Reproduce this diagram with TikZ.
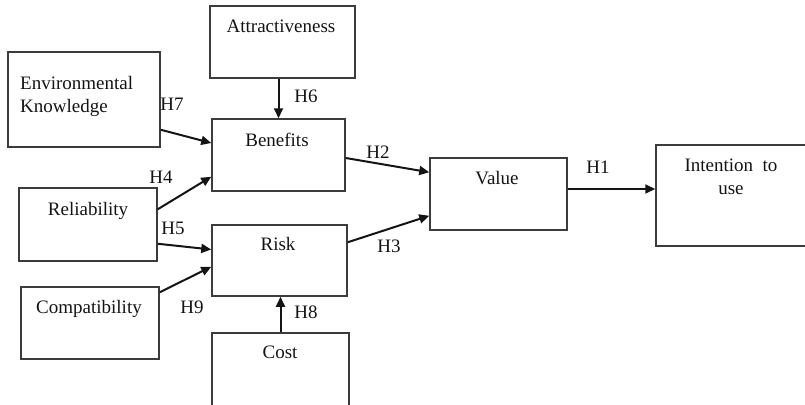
\documentclass[tikz,border=0pt]{standalone}
\usepackage{fontspec}
\setmainfont{Liberation Serif}
\usepackage{xcolor}
\usepackage{tikz}
\usetikzlibrary{calc,arrows.meta}
\definecolor{boxline}{RGB}{60, 60, 60}
\definecolor{ink}{RGB}{20, 20, 20}

\begin{document}
\begin{tikzpicture}[x=1pt, y=-1pt,
    box/.style={draw=boxline, line width=1.5pt, inner sep=0pt},
    txt/.style={text=ink, font=\fontsize{19}{23}\selectfont, anchor=base, inner sep=0pt},
    hyp/.style={txt},
    arr/.style={-{Triangle[length=10pt,width=9pt]}, line width=2pt, ink}]
  \useasboundingbox (0,0) rectangle (805,404);

  % Boxes
  \node[box, minimum width=145, minimum height=72] (attr) at (282.5,42) {};
  \node[box, minimum width=152, minimum height=95] (env)  at (84,99.5) {};
  \node[box, minimum width=133, minimum height=72] (ben)  at (278.5,155) {};
  \node[box, minimum width=138, minimum height=73] (rel)  at (88,224.5) {};
  \node[box, minimum width=135, minimum height=71] (risk) at (279.5,260.5) {};
  \node[box, minimum width=138, minimum height=72] (comp) at (90,323) {};
  \node[box, minimum width=137, minimum height=77] (cost) at (280.5,371.5) {};
  \node[box, minimum width=137, minimum height=72] (val)  at (498.5,194) {};
  \node[box, minimum width=159, minimum height=101] (int) at (735.5,195.5) {};

  % Box texts (base of a two-line node is its last line)
  \node[txt] (attrT) at (281,33) {Attractiveness};
  \node[txt, anchor=base west, align=left] (envT) at (20,112) {Environmental\\Knowledge};
  \node[txt] (benT)  at (277,146) {Benefits};
  \node[txt] (relT)  at (88,215) {Reliability};
  \node[txt] (riskT) at (278,250) {Risk};
  \node[txt] (compT) at (89,313) {Compatibility};
  \node[txt] (costT) at (280,358) {Cost};
  \node[txt] (valT)  at (497,184) {Value};
  \node[txt, align=center] (intT) at (731,194) {Intention\ \ to\\use};

  % Paths
  \draw[arr] (ben.north |- attr.south) -- (ben.north);
  \draw[arr] (cost.north) -- (cost.north |- risk.south);
  \draw[arr] ($(env.south east)+(0,-18)$) -- ($(ben.west)+(0,-12)$);
  \draw[arr] ($(rel.north east)+(0,22)$) -- ($(ben.south west)+(0,-15)$);
  \draw[arr] ($(rel.south east)+(0,-18)$) -- ($(risk.west)+(0,-11)$);
  \draw[arr] ($(comp.north east)+(0,6)$) -- ($(risk.south west)+(0,-30)$);
  \draw[arr] ($(ben.east)+(0,3)$) -- ($(val.north west)+(0,15)$);
  \draw[arr] ($(risk.north east)+(0,18)$) -- ($(val.south west)+(0,-15)$);
  \draw[arr] ($(val.east)+(0,-5)$) coordinate (h1s) -- (h1s -| int.west);

  % Hypotheses
  \node[hyp] (h1) at (598,173) {H1};
  \node[hyp] (h2) at (378,158) {H2};
  \node[hyp] (h3) at (389,252) {H3};
  \node[hyp] (h4) at (161,183) {H4};
  \node[hyp] (h5) at (173,234) {H5};
  \node[hyp] (h6) at (306,102) {H6};
  \node[hyp] (h7) at (172,110) {H7};
  \node[hyp] (h8) at (306,318) {H8};
  \node[hyp] (h9) at (192,313) {H9};
\end{tikzpicture}
\end{document}
